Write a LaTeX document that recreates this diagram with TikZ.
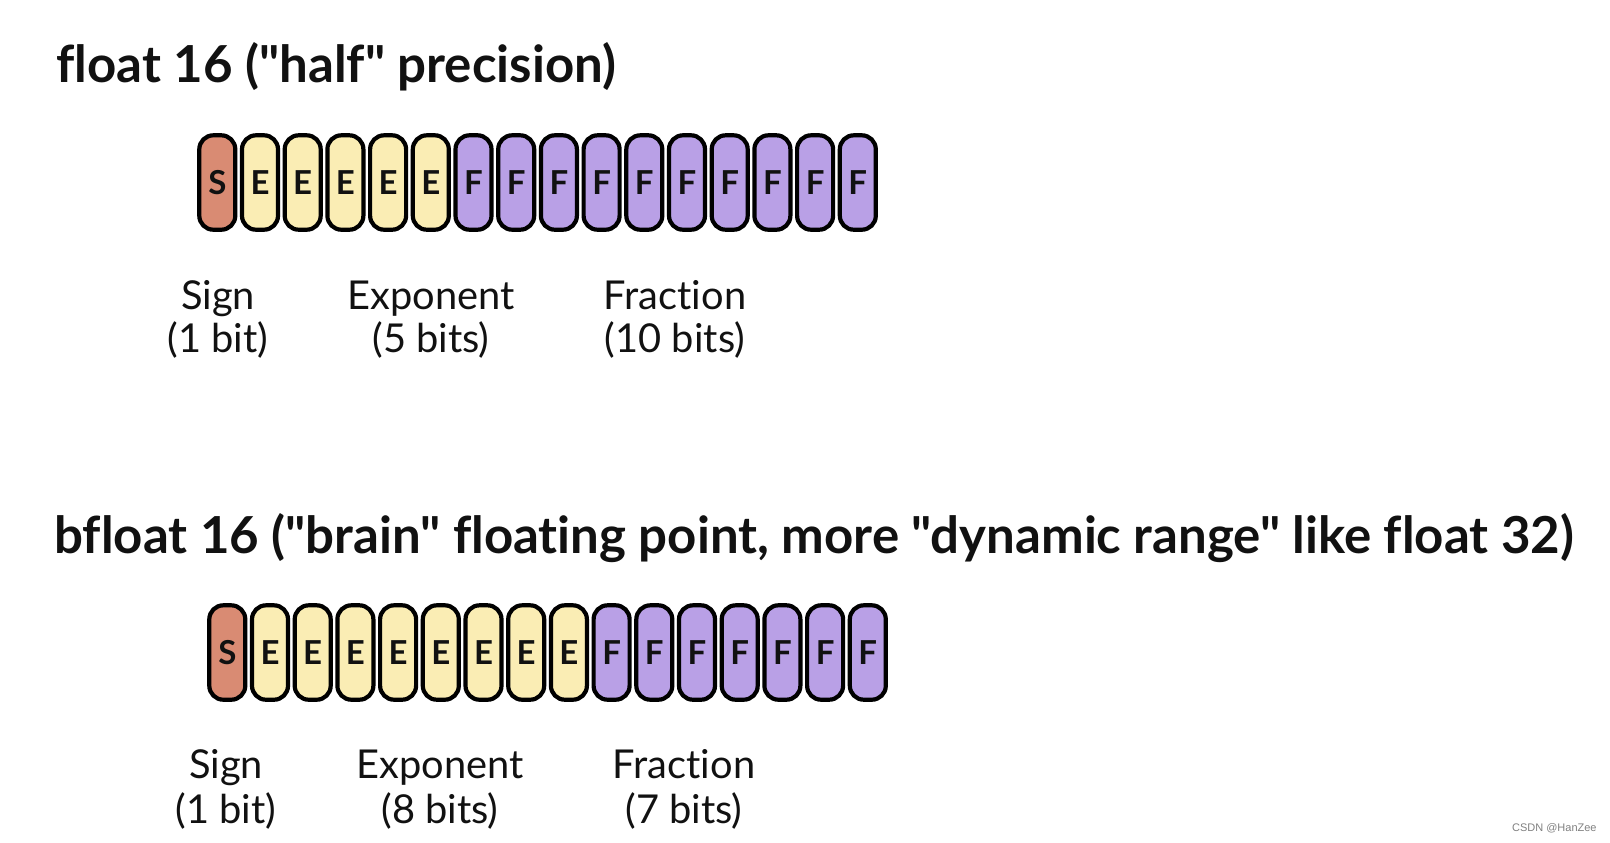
\documentclass[tikz,border=0pt]{standalone}
\usepackage{fontspec}
\setmainfont{Lato}[Ligatures={TeXOff,NoCommon}]
\newfontfamily\wmfont{Liberation Sans}
\definecolor{signc}{RGB}{217,139,115}
\definecolor{expc}{RGB}{250,237,180}
\definecolor{fracc}{RGB}{185,160,230}
\definecolor{inkc}{RGB}{17,17,17}
\tikzset{
  bitcell/.style={draw=black, line width=2.1pt, rounded corners=7pt,
    minimum width=18pt, minimum height=47.2pt, inner sep=0pt,
    font=\bfseries\fontsize{16.5}{16.5}\selectfont, text=inkc},
  sgn/.style={bitcell, fill=signc},
  expo/.style={bitcell, fill=expc},
  frac/.style={bitcell, fill=fracc},
  title/.style={anchor=base west, inner sep=0pt, font=\bfseries\fontsize{25.5}{25.5}\selectfont, text=inkc},
  lbl/.style={anchor=base, inner sep=0pt, font=\fontsize{19.9}{19.9}\selectfont, text=inkc},
}
\begin{document}
\begin{tikzpicture}[x=0.5pt, y=-0.5pt]
\useasboundingbox (0,0) rectangle (1610,842);
% titles
\node[title] (t1) at (56,82) {float 16 ("half" precision)};
\node[title] (t2) at (54,553) {bfloat 16 ("brain" floating point, more "dynamic range" like float 32)};
% row 1
\foreach \i in {0,...,15} {
  \pgfmathsetmacro{\cx}{217.3+\i*42.7}
  \ifnum\i=0 \node[sgn] (a\i) at (\cx,182.5) {S};
  \else\ifnum\i<6 \node[expo] (a\i) at (\cx,182.5) {E};
  \else \node[frac] (a\i) at (\cx,182.5) {F};
  \fi\fi
}
% row 2
\foreach \i in {0,...,15} {
  \pgfmathsetmacro{\cx}{227.3+\i*42.7}
  \ifnum\i=0 \node[sgn] (b\i) at (\cx,652.5) {S};
  \else\ifnum\i<9 \node[expo] (b\i) at (\cx,652.5) {E};
  \else \node[frac] (b\i) at (\cx,652.5) {F};
  \fi\fi
}
% labels row 1
\node[lbl] (s1a) at (218,309) {Sign};
\node[lbl] (s1b) at (218,352) {(1 bit)};
\node[lbl] (e1a) at (431,309) {Exponent};
\node[lbl] (e1b) at (431,352) {(5 bits)};
\node[lbl] (f1a) at (675,309) {Fraction};
\node[lbl] (f1b) at (675,352) {(10 bits)};
% labels row 2
\node[lbl] (s2a) at (226,778) {Sign};
\node[lbl] (s2b) at (226,823) {(1 bit)};
\node[lbl] (e2a) at (440,778) {Exponent};
\node[lbl] (e2b) at (440,823) {(8 bits)};
\node[lbl] (f2a) at (684,778) {Fraction};
\node[lbl] (f2b) at (684,823) {(7 bits)};
% watermark
\node[anchor=base east, inner sep=0pt, font=\wmfont\fontsize{5.5}{5.5}\selectfont, text=black!50] (wm) at (1597,831) {CSDN @HanZee};
\end{tikzpicture}
\end{document}
